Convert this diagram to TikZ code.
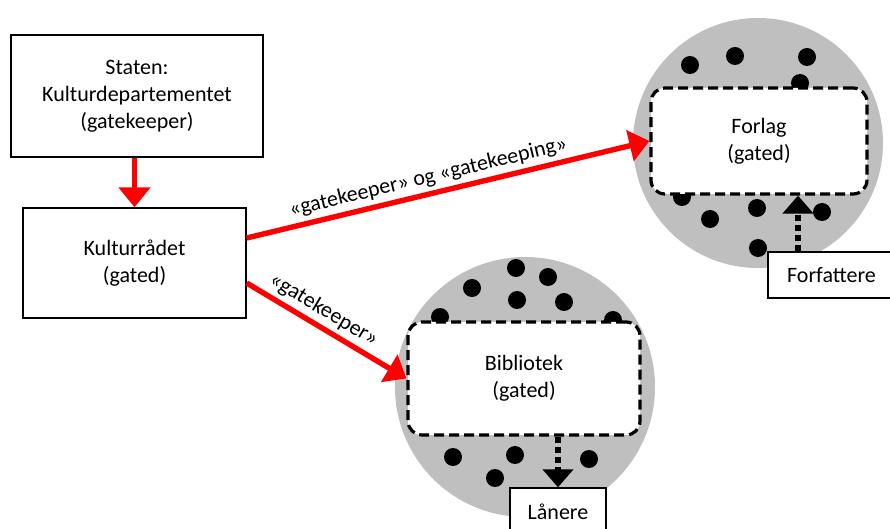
\documentclass[tikz,border=0pt]{standalone}
\usepackage{fontspec}
\setmainfont{Carlito}
\usetikzlibrary{arrows.meta, positioning, calc}

\begin{document}
\begin{tikzpicture}[x=0.5pt, y=-0.5pt,
  box/.style={draw, line width=0.7pt, fill=white, align=center, inner sep=0pt,
              font=\fontsize{11}{13.5}\selectfont},
  gatedbox/.style={draw, line width=1.6pt, dash pattern=on 5pt off 2.5pt,
                   rounded corners=7pt, fill=white, align=center, inner sep=0pt,
                   font=\fontsize{11}{13.5}\selectfont},
  crowd/.style={fill=black!25},
  redarrow/.style={red, line width=2.7pt, -{Triangle[length=10pt, width=15.5pt]}},
  userarrow/.style={line width=3pt, dash pattern=on 3pt off 2pt,
                    -{Triangle[length=9pt, width=15pt]}},
  label/.style={text=black, font=\fontsize{11}{13.5}\selectfont, inner sep=2pt}]
  \useasboundingbox (0,0) rectangle (890,529);

  % Crowds round the gated ones
  \fill[crowd] (758,143) circle (62.5pt);
  \fill[crowd] (525,387) circle (65pt);
  \foreach \px/\py in {690/65, 735/56, 807/57, 800/83, 682/197, 710/219,
                       757/208, 822/212, 758/248}
    \fill (\px,\py) circle (4.5pt);
  \foreach \px/\py in {472/288, 516/268, 548/277, 517/300, 564/302, 440/317,
                       613/320, 453/457, 515/455, 495/478, 589/459}
    \fill (\px,\py) circle (4.5pt);

  % Gatekeepers
  \node[box, minimum width=126pt, minimum height=61pt] (staten) at (137,96)
    {Staten:\\Kulturdepartementet\\(gatekeeper)};
  \node[box, minimum width=111.5pt, minimum height=55pt] (kultur) at (134.5,263)
    {Kulturrådet\\(gated)};

  % Gated ones
  \node[gatedbox, minimum width=108pt, minimum height=53pt] (forlag) at (759,141)
    {Forlag\\(gated)};
  \node[gatedbox, minimum width=116pt, minimum height=56.5pt] (bibliotek) at (524,378.5)
    {Bibliotek\\(gated)};

  % Outside users
  \node[box, minimum width=63.5pt, minimum height=23pt] (forfattere) at (831.5,275)
    {Forfattere};
  \node[box, minimum width=48pt, minimum height=24pt] (laanere) at (558,512)
    {Lånere};
  \coordinate (fa) at (798,0);

  % Red connections
  \draw[redarrow] (kultur.north |- staten.south) -- (kultur.north);
  \draw[redarrow] ($(kultur.east)+(0,-25)$) -- (forlag.west)
    node[label, sloped, above, pos=0.46] {«gatekeeper» og «gatekeeping»};
  \draw[redarrow] ($(kultur.east)+(0,20)$) -- (bibliotek.west)
    node[label, sloped, above, pos=0.43] {«gatekeeper»};

  % Dotted connections
  \draw[userarrow] (forfattere.north -| fa) -- (forlag.south -| fa);
  \draw[userarrow] (bibliotek.south -| laanere.north) -- (laanere.north);
\end{tikzpicture}
\end{document}
